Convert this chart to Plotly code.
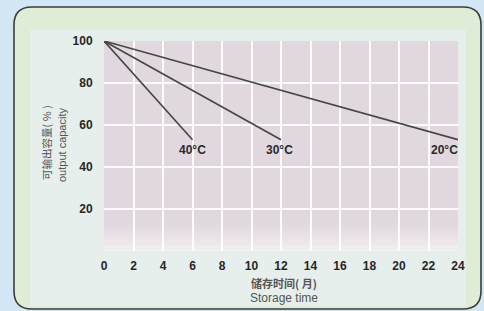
import plotly.graph_objects as go

# ---- data ----
months_40 = [0, 6]
cap_40 = [100, 53]
months_30 = [0, 12]
cap_30 = [100, 53]
months_20 = [0, 24]
cap_20 = [100, 53]
series_labels = ["40°C", "30°C", "20°C"]
label_x = [6, 11.9, 24]
label_y = [48, 48, 48]
x_ticks = list(range(0, 25, 2))
y_ticks = [20, 40, 60, 80, 100]

W, H = 484, 311
L, R, T, B = 104, 458, 41, 251


def px(x, y):
    return ((x - L) / (R - L), (B - y) / (B - T))


def rounded_path(x0, y0, x1, y1, r):
    def P(x, y):
        a, b = px(x, y)
        return f"{a:.5f},{b:.5f}"
    d = f"M{P(x0 + r, y0)} L{P(x1 - r, y0)} Q{P(x1, y0)} {P(x1, y0 + r)} "
    d += f"L{P(x1, y1 - r)} Q{P(x1, y1)} {P(x1 - r, y1)} "
    d += f"L{P(x0 + r, y1)} Q{P(x0, y1)} {P(x0, y1 - r)} "
    d += f"L{P(x0, y0 + r)} Q{P(x0, y0)} {P(x0 + r, y0)} Z"
    return d


fig = go.Figure()
line_style = dict(color="#454545", width=1.6)
for xs, ys in [(months_40, cap_40), (months_30, cap_30), (months_20, cap_20)]:
    fig.add_trace(go.Scatter(x=xs, y=ys, mode="lines", line=line_style,
                             showlegend=False, hoverinfo="skip"))

shapes = []
# outer rounded panel
shapes.append(dict(type="path", xref="paper", yref="paper", layer="below",
                   path=rounded_path(14, 7, 481, 309, 18),
                   fillcolor="#e0edd6", line=dict(color="#3c3c3c", width=1.6)))
# inner lighter panel
a0, b0 = px(30, 306)
a1, b1 = px(466, 30)
shapes.append(dict(type="rect", xref="paper", yref="paper", layer="below",
                   x0=a0, y0=b0, x1=a1, y1=b1, fillcolor="#e7efec",
                   line=dict(width=0)))
# pink plot area
shapes.append(dict(type="rect", xref="x", yref="y", layer="below",
                   x0=0, x1=24, y0=0, y1=100, fillcolor="#e1d7df",
                   line=dict(width=0)))
# bottom fade to white
c0 = (225, 215, 223)
c1 = (243, 240, 242)
n = 10
top = 12.0
for i in range(n):
    t = (i + 1) / n
    col = tuple(int(round(c0[k] + (c1[k] - c0[k]) * t)) for k in range(3))
    y_hi = top - top * i / n
    y_lo = top - top * (i + 1) / n
    shapes.append(dict(type="rect", xref="x", yref="y", layer="below",
                       x0=0, x1=24, y0=y_lo, y1=y_hi,
                       fillcolor="rgb(%d,%d,%d)" % col, line=dict(width=0)))

annotations = []
for lab, lx, ly in zip(series_labels, label_x, label_y):
    edge = lx >= 24
    annotations.append(dict(x=lx, y=ly, xref="x", yref="y", text=lab,
                            showarrow=False,
                            xanchor="right" if edge else "center",
                            yanchor="middle",
                            xshift=2 if edge else 0,
                            font=dict(family="Liberation Sans, Arial", size=12,
                                      color="#2a2a2a", weight="bold")))

# axis titles
def title_ann(x, y, text, font, angle=0):
    ax, ay = px(x, y)
    return dict(x=ax, y=ay, xref="paper", yref="paper", text=text,
                textangle=angle, showarrow=False, xanchor="center",
                yanchor="middle", font=font, borderpad=0)

annotations.append(title_ann(46, 143, "可输出容量( ％ )",
                             dict(family="Noto Sans CJK SC", size=10.5, color="#555555"), -90))
annotations.append(title_ann(62, 145, "output capacity",
                             dict(family="Liberation Sans, Arial", size=11, color="#555555"), -90))
annotations.append(title_ann(284, 283, "储存时间( 月)",
                             dict(family="Noto Sans CJK SC", size=11, color="#555555",
                                  weight="bold")))
annotations.append(title_ann(284, 298, "Storage time",
                             dict(family="Liberation Sans, Arial", size=12, color="#555555")))

tick_font = dict(family="Liberation Sans, Arial", size=12, color="#262626", weight="bold")
fig.update_layout(
    width=W, height=H,
    margin=dict(l=L, r=W - R, t=T, b=H - B, pad=0),
    paper_bgcolor="#d2e7f3",
    plot_bgcolor="rgba(0,0,0,0)",
    shapes=shapes,
    annotations=annotations,
    xaxis=dict(range=[0, 24], tickvals=x_ticks, showgrid=True,
               gridcolor="rgba(255,255,255,0.9)", gridwidth=2, zeroline=False,
               showline=False, ticks="outside", ticklen=4,
               tickcolor="rgba(0,0,0,0)", tickfont=tick_font, fixedrange=True),
    yaxis=dict(range=[0, 100], tickvals=y_ticks, showgrid=True,
               gridcolor="rgba(255,255,255,0.9)", gridwidth=2, zeroline=False,
               showline=False, ticks="outside", ticklen=8,
               tickcolor="rgba(0,0,0,0)", tickfont=tick_font, fixedrange=True),
    showlegend=False,
)

fig.write_html("out.html", config={"displayModeBar": False},
               post_script="document.body.style.margin='0';document.body.style.background='#d2e7f3';")
